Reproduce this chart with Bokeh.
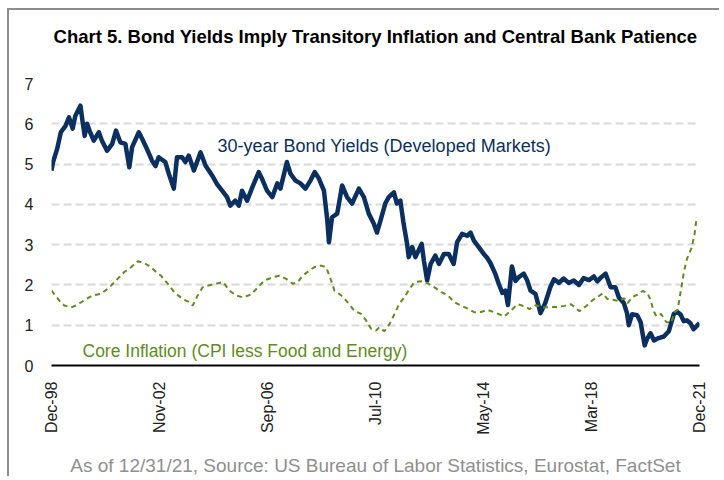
import numpy as np
import pandas as pd
from bokeh.plotting import figure
from bokeh.models import FixedTicker, DatetimeTickFormatter, Label, Range1d, LinearAxis
from bokeh.embed import file_html
from bokeh.resources import INLINE

# ---------------- data ----------------
bond_dates = [
    "1998-12-31", "1999-01-20", "1999-02-28", "1999-03-15", "1999-05-01", "1999-07-01",
    "1999-08-15", "1999-10-01", "1999-11-05", "2000-01-10", "2000-02-05", "2000-03-05",
    "2000-04-05", "2000-05-15", "2000-07-01", "2000-09-05", "2000-10-15", "2000-12-20",
    "2001-02-25", "2001-04-15", "2001-06-10", "2001-08-15", "2001-10-05", "2001-11-10",
    "2002-02-05", "2002-03-20", "2002-05-20", "2002-07-25", "2002-09-10", "2002-10-20",
    "2003-01-15", "2003-03-01", "2003-05-05", "2003-06-15", "2003-08-20", "2003-10-01",
    "2003-11-15", "2004-01-20", "2004-04-15", "2004-06-20", "2004-09-15", "2004-11-15",
    "2005-01-20", "2005-03-25", "2005-05-05", "2005-07-10", "2005-08-25", "2005-10-05",
    "2005-12-10", "2006-02-15", "2006-05-10", "2006-06-20", "2006-08-25", "2006-11-01",
    "2007-01-05", "2007-02-15", "2007-05-10", "2007-06-25", "2007-08-30", "2007-11-01",
    "2008-01-05", "2008-03-10", "2008-05-05", "2008-06-28", "2008-09-01", "2008-10-15",
    "2008-11-05", "2008-12-15", "2009-02-20", "2009-04-25", "2009-06-28", "2009-09-01",
    "2009-11-28", "2010-02-01", "2010-04-05", "2010-06-10", "2010-07-20", "2010-09-05",
    "2010-11-05", "2010-12-20", "2011-02-25", "2011-04-05", "2011-05-20", "2011-07-01",
    "2011-08-15", "2011-09-05", "2011-10-20", "2011-12-01", "2012-02-20", "2012-03-20",
    "2012-05-01", "2012-06-15", "2012-08-15", "2012-10-01", "2012-12-05", "2013-02-05",
    "2013-04-10", "2013-05-25", "2013-07-28", "2013-10-01", "2013-11-15", "2013-12-28",
    "2014-03-01", "2014-05-05", "2014-06-15", "2014-07-28", "2014-10-01", "2014-11-15",
    "2015-01-01", "2015-02-10", "2015-03-15", "2015-05-05", "2015-06-20", "2015-08-01",
    "2015-10-05", "2015-11-20", "2016-01-01", "2016-03-05", "2016-05-10", "2016-07-10",
    "2016-09-15", "2016-11-01", "2017-01-05", "2017-03-05", "2017-05-10", "2017-07-15",
    "2017-09-20", "2017-11-20", "2018-01-28", "2018-04-01", "2018-05-15", "2018-06-25",
    "2018-09-01", "2018-11-05", "2019-01-05", "2019-02-20", "2019-04-25", "2019-06-05",
    "2019-06-28", "2019-08-10", "2019-10-15", "2019-11-28", "2020-01-20", "2020-02-20",
    "2020-04-05", "2020-05-20", "2020-07-20", "2020-09-25", "2020-11-28", "2021-02-01",
    "2021-03-15", "2021-04-28", "2021-06-10", "2021-07-20", "2021-09-05", "2021-10-15",
    "2021-12-31",
]
bond_yield = [
    4.84, 5.05, 5.29, 5.38, 5.79, 5.95,
    6.16, 5.88, 6.20, 6.45, 6.08, 5.70,
    6.00, 5.79, 5.58, 5.79, 5.58, 5.33,
    5.50, 5.83, 5.54, 5.50, 4.92, 5.42,
    5.79, 5.63, 5.38, 5.09, 4.95, 5.17,
    5.05, 4.76, 4.39, 5.17, 5.17, 5.05,
    5.21, 4.84, 5.29, 4.96, 4.71, 4.50,
    4.34, 4.18, 3.97, 4.09, 3.97, 4.34,
    4.09, 4.42, 4.80, 4.64, 4.34, 4.18,
    4.52, 4.39, 5.05, 4.76, 4.59, 4.52,
    4.39, 4.59, 4.80, 4.64, 4.34, 3.60,
    3.06, 3.68, 3.77, 4.47, 4.18, 4.02,
    4.39, 4.18, 3.77, 3.52, 3.30, 3.60,
    4.02, 4.18, 4.30, 4.02, 4.09, 3.52,
    3.02, 2.69, 2.94, 2.69, 3.02, 2.60,
    2.11, 2.52, 2.73, 2.52, 2.77, 2.77,
    2.52, 3.06, 3.27, 3.22, 3.30, 3.10,
    2.94, 2.77, 2.68, 2.55, 2.28, 2.03,
    1.80, 1.86, 1.50, 2.46, 2.10, 2.19,
    2.28, 2.11, 1.86, 1.78, 1.30, 1.55,
    1.95, 2.14, 2.05, 2.16, 2.05, 2.11,
    2.00, 2.17, 2.12, 2.21, 2.09, 2.17,
    2.28, 1.94, 1.94, 1.69, 1.55, 1.30,
    1.00, 1.27, 1.25, 1.08, 0.50, 0.66,
    0.80, 0.62, 0.68, 0.72, 0.85, 1.28,
    1.33, 1.27, 1.10, 1.12, 1.05, 0.90,
    1.05,
]

core_dates = [
    "1998-12-31", "1999-04-12", "1999-06-15", "1999-09-12", "1999-11-15", "2000-01-20",
    "2000-03-25", "2000-06-18", "2000-10-05", "2001-01-20", "2001-04-15", "2001-08-01",
    "2001-10-28", "2002-01-25", "2002-04-20", "2002-07-15", "2002-10-10", "2002-11-20",
    "2003-02-15", "2003-05-12", "2003-08-28", "2003-11-25", "2004-01-05", "2004-03-10",
    "2004-05-12", "2004-08-08", "2004-11-03", "2005-01-31", "2005-04-25", "2005-07-20",
    "2005-10-15", "2006-01-31", "2006-04-28", "2006-07-22", "2006-11-08", "2007-02-03",
    "2007-04-30", "2007-07-25", "2007-09-28", "2007-11-30", "2008-02-27", "2008-04-30",
    "2008-07-27", "2008-09-30", "2008-12-03", "2009-01-15", "2009-04-12", "2009-07-06",
    "2009-09-30", "2009-12-28", "2010-03-01", "2010-05-05", "2010-07-09", "2010-08-20",
    "2010-10-25", "2010-12-31", "2011-03-05", "2011-05-06", "2011-07-10", "2011-09-15",
    "2011-11-18", "2012-02-15", "2012-05-10", "2012-08-05", "2012-10-31", "2013-01-25",
    "2013-04-20", "2013-07-15", "2013-10-10", "2014-01-05", "2014-04-01", "2014-06-25",
    "2014-09-20", "2015-01-28", "2015-04-25", "2015-07-18", "2015-10-15", "2015-12-18",
    "2016-03-12", "2016-06-08", "2016-09-02", "2016-11-30", "2017-03-15", "2017-06-10",
    "2017-09-25", "2017-12-20", "2018-03-15", "2018-05-20", "2018-07-25", "2018-09-25",
    "2018-12-01", "2019-02-25", "2019-04-30", "2019-06-12", "2019-08-15", "2019-10-20",
    "2019-12-25", "2020-02-25", "2020-04-10", "2020-05-12", "2020-06-20", "2020-08-20",
    "2020-10-25", "2020-12-28", "2021-02-10", "2021-03-22", "2021-05-05", "2021-06-12",
    "2021-07-20", "2021-09-15", "2021-10-25", "2021-11-25",
]
core_infl = [
    1.86, 1.61, 1.49, 1.44, 1.49, 1.57,
    1.65, 1.74, 1.78, 1.94, 2.11, 2.32,
    2.44, 2.59, 2.54, 2.44, 2.28, 2.23,
    2.03, 1.82, 1.65, 1.57, 1.49, 1.74,
    1.94, 1.99, 2.03, 2.07, 1.86, 1.74,
    1.69, 1.76, 1.94, 2.11, 2.19, 2.23,
    2.15, 2.03, 2.07, 2.23, 2.36, 2.44,
    2.48, 2.44, 2.11, 1.86, 1.74, 1.57,
    1.36, 1.28, 1.12, 0.91, 0.87, 0.95,
    0.85, 1.03, 1.28, 1.53, 1.69, 1.90,
    2.07, 2.09, 2.04, 1.94, 1.82, 1.74,
    1.57, 1.49, 1.41, 1.32, 1.33, 1.38,
    1.32, 1.22, 1.37, 1.52, 1.47, 1.40,
    1.50, 1.44, 1.45, 1.45, 1.48, 1.52,
    1.35, 1.47, 1.62, 1.70, 1.79, 1.65,
    1.63, 1.60, 1.67, 1.55, 1.70, 1.76,
    1.85, 1.80, 1.60, 1.37, 1.22, 1.28,
    1.08, 1.06, 1.32, 1.38, 1.88, 2.32,
    2.64, 2.90, 3.22, 3.68,
]

x_tick_dates = ["1998-12-31", "2002-11-01", "2006-09-01", "2010-07-02",
                "2014-05-03", "2018-03-04", "2021-12-31"]
y_ticks = [0, 1, 2, 3, 4, 5, 6, 7]

title_text = "Chart 5. Bond Yields Imply Transitory Inflation and Central Bank Patience"
footer_text = "As of 12/31/21, Source: US Bureau of Labor Statistics, Eurostat, FactSet"
bond_label = "30-year Bond Yields (Developed Markets)"
core_label = "Core Inflation (CPI less Food and Energy)"

# ---------------- styling ----------------
NAVY = "#0b2f5e"
GREEN = "#5f8c1e"
FONT = "Liberation Sans"


def ms(d):
    return pd.Timestamp(d).value / 1e6


bx = pd.to_datetime(bond_dates)
cx = pd.to_datetime(core_dates)

p = figure(width=712, height=468, x_axis_type="datetime",
           output_backend="svg", toolbar_location=None,
           x_range=Range1d(pd.Timestamp(x_tick_dates[0]), pd.Timestamp(x_tick_dates[-1])),
           y_range=Range1d(0, 7),
           min_border_left=42, min_border_right=22,
           min_border_top=73, min_border_bottom=113)
p.styles = {"border-left": "2px solid #8c8c8c", "border-top": "2px solid #8c8c8c",
            "margin-left": "7px", "margin-top": "8px"}
p.outline_line_color = None
p.background_fill_color = "white"
p.border_fill_color = "white"

p.xgrid.visible = False
p.ygrid.grid_line_color = "#d9d9d9"
p.ygrid.grid_line_dash = "8 4"
p.ygrid.grid_line_width = 2

p.yaxis.ticker = FixedTicker(ticks=y_ticks)
p.yaxis.axis_line_color = None
p.yaxis.major_tick_line_color = None
p.yaxis.minor_tick_line_color = None
p.yaxis.major_label_text_font = FONT
p.yaxis.major_label_text_font_size = "16px"
p.yaxis.major_label_text_color = "#222222"
p.yaxis.major_label_standoff = 12

xax = p.xaxis[0]
xax.ticker = FixedTicker(ticks=[ms(d) for d in x_tick_dates])
xax.formatter = DatetimeTickFormatter(days="%b-%y", months="%b-%y", years="%b-%y")
xax.axis_line_color = "black"
xax.axis_line_width = 2
xax.major_tick_line_color = None
xax.minor_tick_line_color = None
xax.major_tick_out = 0
xax.major_label_orientation = np.pi / 2
xax.major_label_text_font = FONT
xax.major_label_text_font_size = "16px"
xax.major_label_text_color = "#222222"
xax.major_label_standoff = 16
# source note under the date labels
xax.axis_label = footer_text
xax.axis_label_text_font = FONT
xax.axis_label_text_font_size = "19px"
xax.axis_label_text_font_style = "normal"
xax.axis_label_text_color = "#8f8f8f"
xax.axis_label_standoff = 17

# chart title on an empty axis above the frame
top = LinearAxis(ticker=FixedTicker(ticks=[]), axis_line_color=None,
                 major_tick_line_color=None, minor_tick_line_color=None,
                 axis_label=title_text, axis_label_text_font=FONT,
                 axis_label_text_font_size="18.5px", axis_label_text_font_style="bold",
                 axis_label_text_color="black", axis_label_standoff=37)
p.add_layout(top, "above")

p.line(bx, bond_yield, line_color=NAVY, line_width=4.5, line_join="round")
p.line(cx, core_infl, line_color=GREEN, line_width=2, line_dash="5 4")

p.add_layout(Label(x=166, y=220, x_units="screen", y_units="screen", text=bond_label,
                   text_font=FONT, text_font_size="18px", text_color=NAVY,
                   text_baseline="alphabetic"))
p.add_layout(Label(x=31, y=15, x_units="screen", y_units="screen", text=core_label,
                   text_font=FONT, text_font_size="17.5px", text_color=GREEN,
                   text_baseline="alphabetic"))

open("out.html", "w").write(file_html(p, INLINE))
